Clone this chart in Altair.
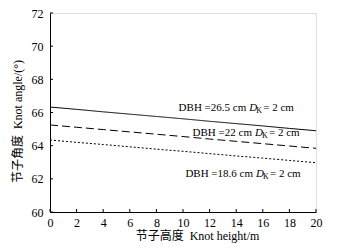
import altair as alt
import pandas as pd

heights = [0, 2, 4, 6, 8, 10, 12, 14, 16, 18, 20]
angle_265 = [66.33, 66.19, 66.04, 65.90, 65.76, 65.62, 65.47, 65.33, 65.19, 65.04, 64.90]
angle_22 = [65.25, 65.11, 64.97, 64.83, 64.69, 64.55, 64.40, 64.26, 64.12, 63.98, 63.84]
angle_186 = [64.34, 64.20, 64.07, 63.93, 63.79, 63.66, 63.52, 63.38, 63.25, 63.11, 62.97]
series_names = ["DBH=26.5", "DBH=22", "DBH=18.6"]
series_dash = [[1, 0], [8, 4], [2, 2]]

label_first = ["DBH =26.5 cm", "DBH =22 cm", "DBH =18.6 cm"]
label_x = [14.98, 15.41, 15.49]
label_y = [66.09, 64.58, 62.11]

x_ticks = [0, 2, 4, 6, 8, 10, 12, 14, 16, 18, 20]
y_ticks = [60, 62, 64, 66, 68, 70, 72]

W, H = 266, 199
SERIF = "Liberation Serif"
TITLE_FONT = "Liberation Serif, Noto Sans CJK SC"

rows = []
for name, vals in zip(series_names, [angle_265, angle_22, angle_186]):
    for h, v in zip(heights, vals):
        rows.append({"h": h, "a": v, "s": name})
df = pd.DataFrame(rows)

xs = alt.Scale(domain=[0, 20], nice=False, zero=False)
ys = alt.Scale(domain=[60, 72], nice=False, zero=False)

x_axis = alt.Axis(
    values=x_ticks, ticks=False, grid=False, domainColor="black", domainWidth=1,
    labelFont=SERIF, labelFontSize=12, labelColor="black", labelPadding=5,
    labelOverlap=False, labelFlush=False,
    title="节子高度\u00a0\u00a0Knot height/m", titleFont=TITLE_FONT, titleFontSize=12,
    titleFontWeight="normal", titleColor="black",
    titleX=147, titleY=27, titleBaseline="alphabetic", titleAlign="center")
y_axis = alt.Axis(
    values=y_ticks, ticks=False, grid=False, domainColor="black", domainWidth=1,
    labelFont=SERIF, labelFontSize=12, labelColor="black", labelPadding=7,
    labelOverlap=False, labelFlush=False,
    title="节子角度\u00a0\u00a0Knot angle/(°)", titleFont=TITLE_FONT, titleFontSize=12,
    titleFontWeight="normal", titleColor="black",
    titleX=-33, titleY=108, titleBaseline="middle", titleAlign="center", titleAngle=270)

lines = alt.Chart(df).mark_line(color="black", strokeWidth=1).encode(
    x=alt.X("h:Q", scale=xs, axis=x_axis),
    y=alt.Y("a:Q", scale=ys, axis=y_axis),
    strokeDash=alt.StrokeDash("s:N", scale=alt.Scale(domain=series_names, range=series_dash), legend=None),
    detail="s:N",
)

ldf = pd.DataFrame({"x": label_x, "y": label_y, "t": label_first})
base_t = alt.Chart(ldf).encode(x=alt.X("x:Q", scale=xs, axis=x_axis), y=alt.Y("y:Q", scale=ys, axis=y_axis))
t1 = base_t.mark_text(align="right", baseline="alphabetic", dx=-3, font=SERIF,
                      fontSize=11, color="black").encode(text="t:N")
t2 = base_t.mark_text(align="left", baseline="alphabetic", font=SERIF,
                      fontSize=11, fontStyle="italic", color="black").encode(text=alt.value("D"))
t3 = base_t.mark_text(align="left", baseline="alphabetic", dx=7, dy=2, font=SERIF,
                      fontSize=8, color="black").encode(text=alt.value("K"))
t4 = base_t.mark_text(align="left", baseline="alphabetic", dx=14, font=SERIF,
                      fontSize=11, color="black").encode(text=alt.value(" = 2 cm"))

ytdf = pd.DataFrame({"v": y_ticks})
ytk = alt.Chart(ytdf).mark_rule(color="black", strokeWidth=1).encode(
    y=alt.Y("v:Q", scale=ys, axis=y_axis), x=alt.value(0), x2=alt.value(3))
xtdf = pd.DataFrame({"v": x_ticks})
xtk = alt.Chart(xtdf).mark_rule(color="black", strokeWidth=1).encode(
    x=alt.X("v:Q", scale=xs, axis=x_axis), y=alt.value(H), y2=alt.value(H - 3))

chart = alt.layer(lines, t1, t2, t3, t4, ytk, xtk).properties(
    width=W, height=H,
    autosize=alt.AutoSizeParams(type="none"),
    padding={"left": 42, "top": 5, "right": 21, "bottom": 31},
).configure_view(stroke=None).configure(background="white")

chart.save("out.html", embed_options={"renderer": "svg", "actions": False})
